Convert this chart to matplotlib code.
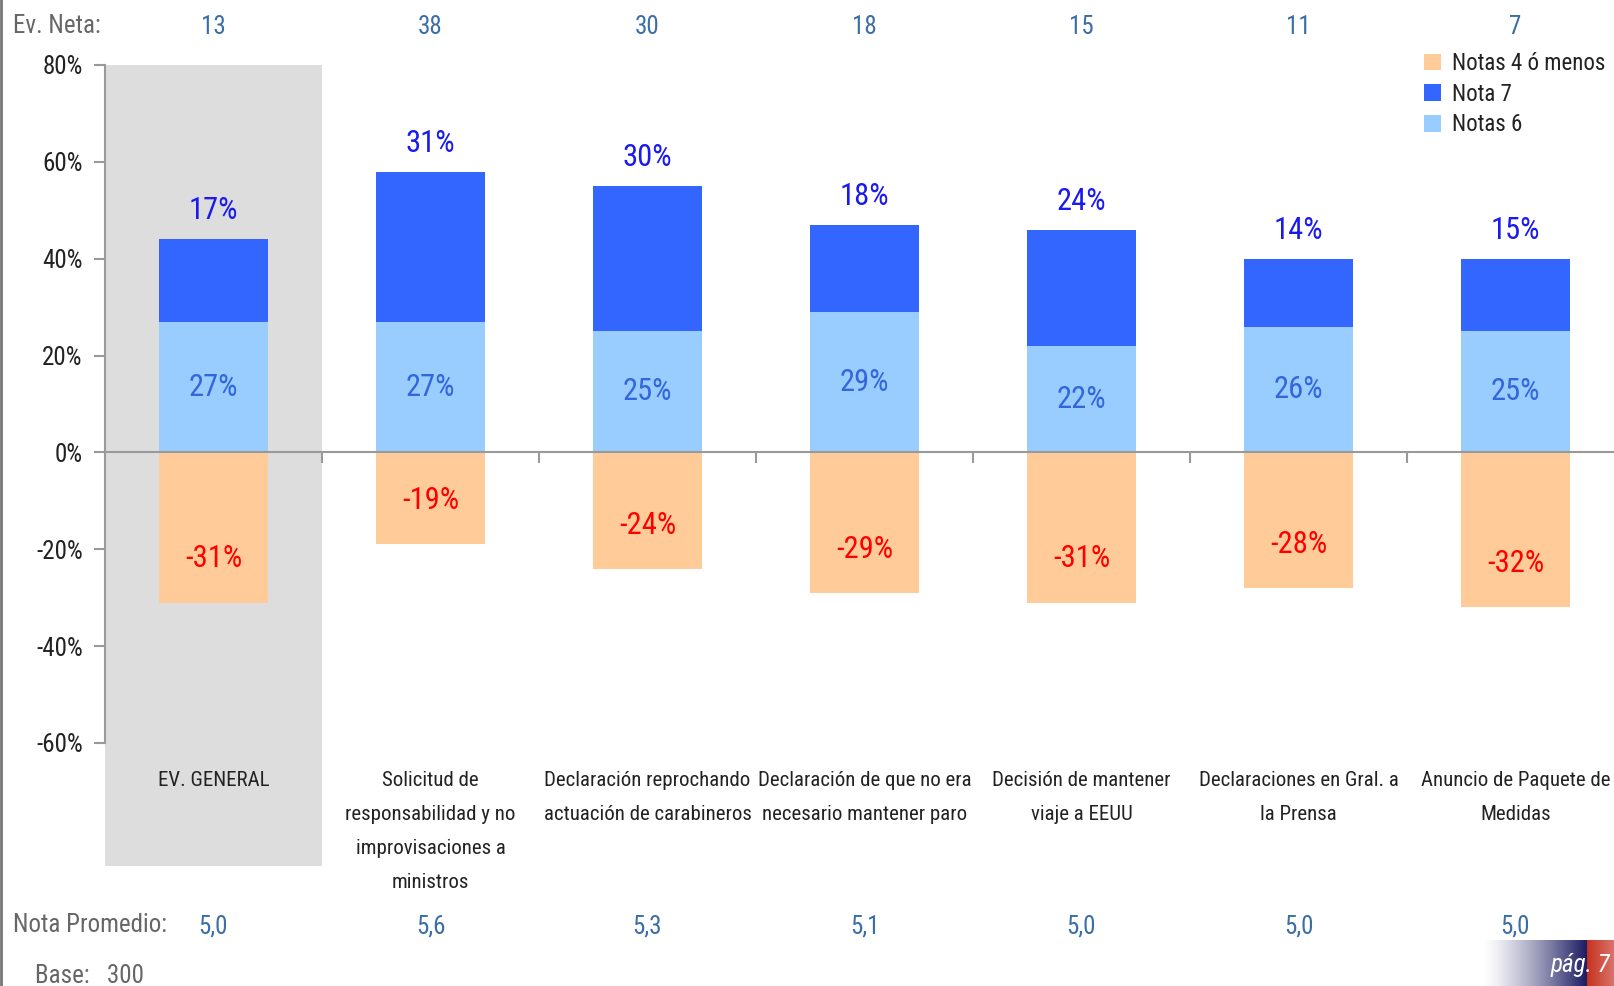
import matplotlib
matplotlib.use("Agg")
import matplotlib.pyplot as plt
import numpy as np
from matplotlib.patches import Rectangle
from matplotlib import font_manager

fams = {f.name for f in font_manager.fontManager.ttflist}
main_font = 'DejaVu Sans'
for cand in ['Liberation Sans Narrow', 'Roboto Condensed', 'PT Sans Narrow', 'Archivo Narrow']:
    if cand in fams:
        main_font = cand
        break
plt.rcParams['font.family'] = [main_font, 'DejaVu Sans']
if main_font == 'DejaVu Sans':
    plt.rcParams['font.stretch'] = 'condensed'

categories = ["EV. GENERAL",
              "Solicitud de\nresponsabilidad y no\nimprovisaciones a\nministros",
              "Declaración reprochando\nactuación de carabineros",
              "Declaración de que no era\nnecesario mantener paro",
              "Decisión de mantener\nviaje a EEUU",
              "Declaraciones en Gral. a\nla Prensa",
              "Anuncio de Paquete de\nMedidas"]
notas6 = [27, 27, 25, 29, 22, 26, 25]
nota7 = [17, 31, 30, 18, 24, 14, 15]
notas4 = [-31, -19, -24, -29, -31, -28, -32]
ev_neta = [13, 38, 30, 18, 15, 11, 7]
nota_promedio = ["5,0", "5,6", "5,3", "5,1", "5,0", "5,0", "5,0"]
yticks = [80, 60, 40, 20, 0, -20, -40, -60]

W, H = 1614, 986
fig = plt.figure(figsize=(W/100, H/100), dpi=100)
ax = fig.add_axes([105/W, 1-743/H, 1519/W, (743-65)/H])

x = np.arange(len(categories))
c6, c7, c4 = '#99ccff', '#3366ff', '#ffcc99'

# gray highlight box for first category
ax.add_patch(Rectangle((-0.5, -85.3), 1.0, 165.3, facecolor='#dddddd',
                       edgecolor='none', zorder=0, clip_on=False))

b4 = ax.bar(x, notas4, width=0.5, color=c4, zorder=2, label='Notas 4 ó menos')
b7 = ax.bar(x, nota7, bottom=notas6, width=0.5, color=c7, zorder=2, label='Nota 7')
b6 = ax.bar(x, notas6, width=0.5, color=c6, zorder=2, label='Notas 6')

for i in range(len(x)):
    top = notas6[i] + nota7[i]
    ax.annotate(f"{nota7[i]}%", (x[i], top), xytext=(0, 10), textcoords='offset points',
                ha='center', va='bottom', fontsize=22, color='#1a1aee')
    ax.text(x[i], notas6[i]/2, f"{notas6[i]}%", ha='center', va='center',
            fontsize=22, color='#3366dd')
    ax.text(x[i], notas4[i] + 9, f"{notas4[i]}%", ha='center', va='center',
            fontsize=22, color='#ff0000')
    ax.text(x[i], -65.8, categories[i], ha='center', va='top', fontsize=15,
            color='#222222', linespacing=2.0)
    ax.text(x[i], 1.0 + 38/678, str(ev_neta[i]), transform=ax.get_xaxis_transform(),
            ha='center', va='center', fontsize=18, color='#3a6ea5')
    ax.text(x[i], -97.8, nota_promedio[i], ha='center', va='center', fontsize=18,
            color='#3a6ea5')

ax.set_xlim(-0.5, len(x) - 0.5)
ax.set_ylim(-60, 80)
ax.set_yticks(yticks)
ax.set_yticklabels([f"{v}%" for v in yticks], fontsize=18, color='#222222')
ax.set_xticks(x[:-1] + 0.5)
ax.set_xticklabels([])
for s in ['top', 'right']:
    ax.spines[s].set_visible(False)
ax.spines['left'].set_color('#999999')
ax.spines['left'].set_linewidth(1.5)
ax.spines['bottom'].set_position(('data', 0))
ax.spines['bottom'].set_color('#999999')
ax.spines['bottom'].set_linewidth(1.5)
ax.tick_params(axis='y', length=8, width=1.5, color='#999999', pad=8)
ax.tick_params(axis='x', length=8, width=1.5, color='#999999', direction='out')

leg = ax.legend(handles=[b4, b7, b6], loc='upper left', bbox_to_anchor=(1424/W, 1-52/H),
                bbox_transform=fig.transFigure, frameon=False, fontsize=16.5,
                handlelength=0.75, handleheight=0.75, handletextpad=0.45, labelspacing=0.33,
                borderaxespad=0, borderpad=0)
for t in leg.get_texts():
    t.set_color('#222222')

# side labels
fig.text(13/W, 1-26/H, "Ev. Neta:", ha='left', va='center', fontsize=18, color='#666666')
fig.text(13/W, 1-925/H, "Nota Promedio:", ha='left', va='center', fontsize=18, color='#666666')
fig.text(35/W, 1-976/H, "Base:   300", ha='left', va='center', fontsize=18, color='#666666')

# left border line
fig.add_artist(plt.Line2D([1/W, 1/W], [0, 1], color='#777777', lw=2, transform=fig.transFigure))

# page badge
bax = fig.add_axes([1483/W, 0, 131/W, 46/H])
n = 262
split = int(n * (104/131))
navy = np.array([0.10, 0.10, 0.38])
white = np.array([1.0, 1.0, 1.0])
img = np.zeros((1, n, 3))
for k in range(split):
    g = (k / split) ** 1.3
    img[0, k] = white * (1 - g) + navy * g
for k in range(n - split):
    f = k / max(n - split - 1, 1)
    img[0, split + k] = np.array([0.78, 0.20, 0.12]) * (1 - f) + np.array([0.85, 0.45, 0.42]) * f
bax.imshow(img, aspect='auto', extent=[0, 1, 0, 1])
bax.set_axis_off()
bax.text(0.97, 0.45, "pág. 7", ha='right', va='center', fontsize=18, color='white',
         style='italic', transform=bax.transAxes)

fig.savefig("out.png", dpi=100)
